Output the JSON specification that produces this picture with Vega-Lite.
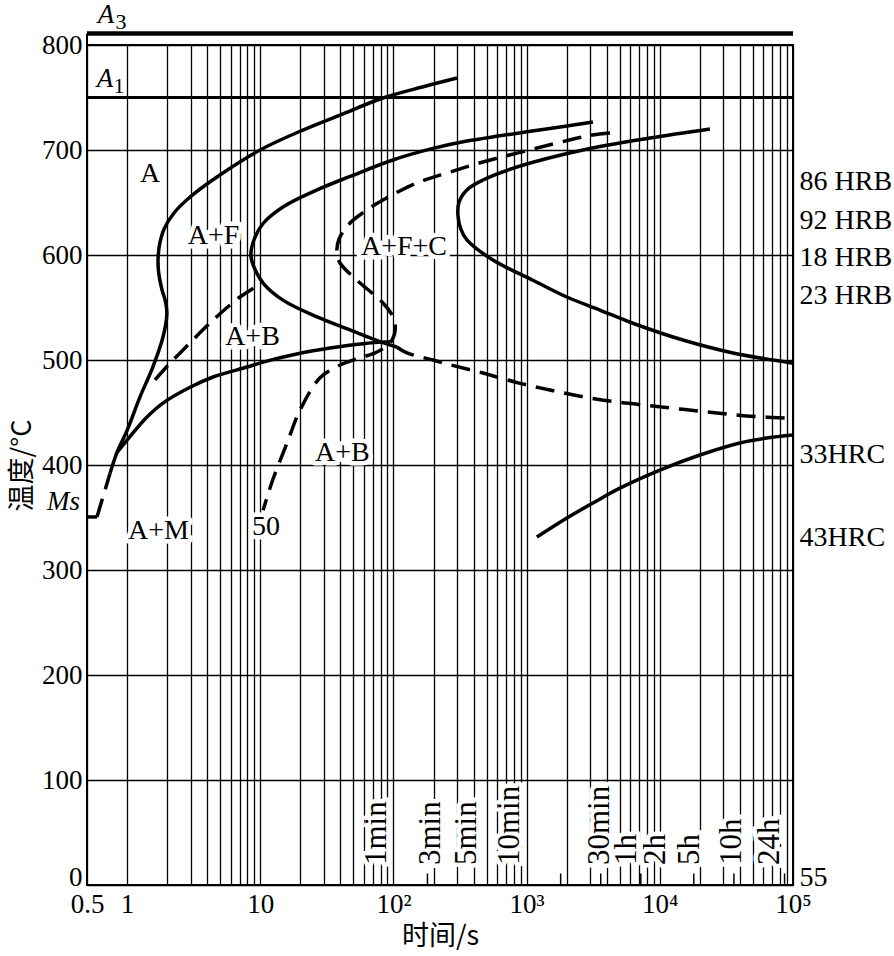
{
  "$schema": "https://vega.github.io/schema/vega-lite/v6.json",
  "width": 706,
  "height": 840,
  "autosize": {"type": "none"},
  "padding": {"left": 87, "top": 45, "right": 101, "bottom": 71},
  "background": "white",
  "config": {
    "view": {"stroke": "black", "strokeWidth": 2},
    "font": "Liberation Serif, Times New Roman, serif",
    "axis": {
      "labelFont": "Liberation Serif, Times New Roman, serif",
      "labelFontSize": 27,
      "labelColor": "black",
      "titleColor": "black",
      "titleFont": "Noto Sans CJK SC",
      "titleFontSize": 27,
      "titleFontWeight": "normal",
      "domain": false,
      "ticks": false,
      "tickSize": 0,
      "gridColor": "black",
      "gridOpacity": 1,
      "gridWidth": 1.3
    }
  },
  "datasets": {
    "solid": [
      {"curve": "c0", "i": 1, "t": 0.5, "T": 350.5},
      {"curve": "c0", "i": 2, "t": 0.594, "T": 350.5},
      {"curve": "c1", "i": 1, "t": 0.744, "T": 392},
      {"curve": "c1", "i": 2, "t": 0.84, "T": 412},
      {"curve": "c1", "i": 3, "t": 1.0, "T": 433},
      {"curve": "c1", "i": 4, "t": 1.25, "T": 464.8},
      {"curve": "c1", "i": 5, "t": 1.56, "T": 493.3},
      {"curve": "c1", "i": 6, "t": 1.86, "T": 521.9},
      {"curve": "c1", "i": 7, "t": 1.99, "T": 544.8},
      {"curve": "c1", "i": 8, "t": 1.93, "T": 557},
      {"curve": "c1", "i": 9, "t": 1.83, "T": 566.7},
      {"curve": "c1", "i": 10, "t": 1.72, "T": 585},
      {"curve": "c1", "i": 11, "t": 1.71, "T": 598},
      {"curve": "c1", "i": 12, "t": 1.76, "T": 611},
      {"curve": "c1", "i": 13, "t": 1.9, "T": 625},
      {"curve": "c1", "i": 14, "t": 2.25, "T": 640},
      {"curve": "c1", "i": 15, "t": 2.97, "T": 655.2},
      {"curve": "c1", "i": 16, "t": 4.73, "T": 674.3},
      {"curve": "c1", "i": 17, "t": 9.96, "T": 700},
      {"curve": "c1", "i": 18, "t": 20.9, "T": 719},
      {"curve": "c1", "i": 19, "t": 39.7, "T": 733.3},
      {"curve": "c1", "i": 20, "t": 83.4, "T": 749.5},
      {"curve": "c1", "i": 21, "t": 170, "T": 760.5},
      {"curve": "c1", "i": 22, "t": 300, "T": 768.6},
      {"curve": "c2", "i": 1, "t": 3147, "T": 726.7},
      {"curve": "c2", "i": 2, "t": 1496, "T": 720.5},
      {"curve": "c2", "i": 3, "t": 631, "T": 713.5},
      {"curve": "c2", "i": 4, "t": 356, "T": 708.5},
      {"curve": "c2", "i": 5, "t": 198, "T": 701.5},
      {"curve": "c2", "i": 6, "t": 99, "T": 690.5},
      {"curve": "c2", "i": 7, "t": 47.2, "T": 674.8},
      {"curve": "c2", "i": 8, "t": 26.7, "T": 662},
      {"curve": "c2", "i": 9, "t": 14.8, "T": 645.7},
      {"curve": "c2", "i": 10, "t": 10.5, "T": 630},
      {"curve": "c2", "i": 11, "t": 9.0, "T": 615},
      {"curve": "c2", "i": 12, "t": 8.5, "T": 600},
      {"curve": "c2", "i": 13, "t": 9.0, "T": 588},
      {"curve": "c2", "i": 14, "t": 10.5, "T": 573.3},
      {"curve": "c2", "i": 15, "t": 14.8, "T": 557},
      {"curve": "c2", "i": 16, "t": 26.7, "T": 541},
      {"curve": "c2", "i": 17, "t": 47.2, "T": 528.6},
      {"curve": "c2", "i": 18, "t": 83.4, "T": 516.5},
      {"curve": "c2", "i": 19, "t": 106, "T": 512.4},
      {"curve": "c3", "i": 1, "t": 0.84, "T": 412},
      {"curve": "c3", "i": 2, "t": 1.0, "T": 423.8},
      {"curve": "c3", "i": 3, "t": 1.41, "T": 445.7},
      {"curve": "c3", "i": 4, "t": 1.86, "T": 459},
      {"curve": "c3", "i": 5, "t": 2.97, "T": 474},
      {"curve": "c3", "i": 6, "t": 4.42, "T": 483.8},
      {"curve": "c3", "i": 7, "t": 7.95, "T": 493.3},
      {"curve": "c3", "i": 8, "t": 10.5, "T": 498},
      {"curve": "c3", "i": 9, "t": 19.9, "T": 506.5},
      {"curve": "c3", "i": 10, "t": 33.4, "T": 511.4},
      {"curve": "c3", "i": 11, "t": 59.1, "T": 515.5},
      {"curve": "c3", "i": 12, "t": 94.2, "T": 517.5},
      {"curve": "c6", "i": 1, "t": 23770, "T": 720},
      {"curve": "c6", "i": 2, "t": 8433, "T": 711.4},
      {"curve": "c6", "i": 3, "t": 2648, "T": 700},
      {"curve": "c6", "i": 4, "t": 846, "T": 683.8},
      {"curve": "c6", "i": 5, "t": 470, "T": 671.4},
      {"curve": "c6", "i": 6, "t": 356, "T": 662},
      {"curve": "c6", "i": 7, "t": 310, "T": 650},
      {"curve": "c6", "i": 8, "t": 305, "T": 638},
      {"curve": "c6", "i": 9, "t": 320, "T": 625},
      {"curve": "c6", "i": 10, "t": 356, "T": 614.3},
      {"curve": "c6", "i": 11, "t": 558, "T": 595.2},
      {"curve": "c6", "i": 12, "t": 1114, "T": 576},
      {"curve": "c6", "i": 13, "t": 2006, "T": 560},
      {"curve": "c6", "i": 14, "t": 3548, "T": 547.6},
      {"curve": "c6", "i": 15, "t": 6281, "T": 535},
      {"curve": "c6", "i": 16, "t": 14920, "T": 519},
      {"curve": "c6", "i": 17, "t": 35400, "T": 506.7},
      {"curve": "c6", "i": 18, "t": 100000, "T": 497},
      {"curve": "c7", "i": 1, "t": 1194, "T": 331.4},
      {"curve": "c7", "i": 2, "t": 2006, "T": 349.5},
      {"curve": "c7", "i": 3, "t": 3147, "T": 363.8},
      {"curve": "c7", "i": 4, "t": 5012, "T": 378},
      {"curve": "c7", "i": 5, "t": 10020, "T": 395.2},
      {"curve": "c7", "i": 6, "t": 20000, "T": 409.5},
      {"curve": "c7", "i": 7, "t": 39900, "T": 421},
      {"curve": "c7", "i": 8, "t": 63680, "T": 425.7},
      {"curve": "c7", "i": 9, "t": 100000, "T": 428.6}
    ],
    "dashed": [
      {"curve": "d0", "i": 1, "t": 0.594, "T": 350.5},
      {"curve": "d0", "i": 2, "t": 0.744, "T": 392},
      {"curve": "d2", "i": 1, "t": 106, "T": 512.4},
      {"curve": "d2", "i": 2, "t": 125, "T": 507},
      {"curve": "d2", "i": 3, "t": 198, "T": 500},
      {"curve": "d2", "i": 4, "t": 266, "T": 495.5},
      {"curve": "d2", "i": 5, "t": 470, "T": 487.6},
      {"curve": "d2", "i": 6, "t": 846, "T": 478.5},
      {"curve": "d2", "i": 7, "t": 1496, "T": 471.4},
      {"curve": "d2", "i": 8, "t": 2648, "T": 465},
      {"curve": "d2", "i": 9, "t": 4762, "T": 460},
      {"curve": "d2", "i": 10, "t": 8433, "T": 456.5},
      {"curve": "d2", "i": 11, "t": 14920, "T": 453},
      {"curve": "d2", "i": 12, "t": 26850, "T": 449.5},
      {"curve": "d2", "i": 13, "t": 47450, "T": 446.5},
      {"curve": "d2", "i": 14, "t": 94800, "T": 444.5},
      {"curve": "d4", "i": 1, "t": 1.62, "T": 481},
      {"curve": "d4", "i": 2, "t": 2.1, "T": 497},
      {"curve": "d4", "i": 3, "t": 2.5, "T": 506.7},
      {"curve": "d4", "i": 4, "t": 4.42, "T": 538},
      {"curve": "d4", "i": 5, "t": 7.05, "T": 560},
      {"curve": "d4", "i": 6, "t": 10.3, "T": 573.3},
      {"curve": "d5", "i": 1, "t": 4221, "T": 716.2},
      {"curve": "d5", "i": 2, "t": 2986, "T": 713.8},
      {"curve": "d5", "i": 3, "t": 1496, "T": 705},
      {"curve": "d5", "i": 4, "t": 846, "T": 697},
      {"curve": "d5", "i": 5, "t": 470, "T": 688.6},
      {"curve": "d5", "i": 6, "t": 266, "T": 679},
      {"curve": "d5", "i": 7, "t": 150, "T": 668.6},
      {"curve": "d5", "i": 8, "t": 83.4, "T": 652.4},
      {"curve": "d5", "i": 9, "t": 63.3, "T": 642.9},
      {"curve": "d5", "i": 10, "t": 47.2, "T": 630.5},
      {"curve": "d5", "i": 11, "t": 39, "T": 615},
      {"curve": "d5", "i": 12, "t": 37.6, "T": 602},
      {"curve": "d5", "i": 13, "t": 39.7, "T": 592.4},
      {"curve": "d5", "i": 14, "t": 53.2, "T": 576},
      {"curve": "d5", "i": 15, "t": 83.4, "T": 554.3},
      {"curve": "d5", "i": 16, "t": 99.1, "T": 541},
      {"curve": "d5", "i": 17, "t": 103, "T": 528.6},
      {"curve": "d5", "i": 18, "t": 94.2, "T": 516.2},
      {"curve": "d5", "i": 19, "t": 75.2, "T": 507.6},
      {"curve": "d5", "i": 20, "t": 56.1, "T": 502},
      {"curve": "d5", "i": 21, "t": 39.7, "T": 495.2},
      {"curve": "d5", "i": 22, "t": 28.1, "T": 483},
      {"curve": "d5", "i": 23, "t": 19.9, "T": 452.4},
      {"curve": "d5", "i": 24, "t": 15.9, "T": 421},
      {"curve": "d5", "i": 25, "t": 12.4, "T": 385.7},
      {"curve": "d5", "i": 26, "t": 10.5, "T": 357}
    ],
    "critA3": [{"name": "A3", "t": 0.5, "t2": 100000, "T": 811}],
    "critA1": [{"name": "A1", "t": 0.5, "t2": 100000, "T": 750}],
    "frameExt": [{"t": 0.5, "T": 800, "T2": 811}],
    "timeTicks": [
      {"t": 180, "T": 0, "T2": 11},
      {"t": 1800, "T": 0, "T2": 11},
      {"t": 3600, "T": 0, "T2": 11},
      {"t": 7200, "T": 0, "T2": 11},
      {"t": 18000, "T": 0, "T2": 11},
      {"t": 36000, "T": 0, "T2": 11},
      {"t": 86400, "T": 0, "T2": 11}
    ],
    "regions": [
      {"t": 1.486, "T": 677, "label": "A"},
      {"t": 4.455, "T": 618, "label": "A+F"},
      {"t": 120, "T": 607.6, "label": "A+F+C"},
      {"t": 8.74, "T": 521.9, "label": "A+B"},
      {"t": 41.4, "T": 411.9, "label": "A+B"},
      {"t": 1.72, "T": 337, "label": "A+M"},
      {"t": 11.04, "T": 340.5, "label": "50"}
    ],
    "hardness": [
      {"t": 112000, "T": 669.5, "label": "86 HRB"},
      {"t": 112000, "T": 632, "label": "92 HRB"},
      {"t": 112000, "T": 597, "label": "18 HRB"},
      {"t": 112000, "T": 561, "label": "23 HRB"},
      {"t": 112000, "T": 409.5, "label": "33HRC"},
      {"t": 112000, "T": 330.5, "label": "43HRC"},
      {"t": 112000, "T": 6.7, "label": "55"}
    ],
    "timeLabels": [
      {"t": 75, "T": 19, "label": "1min"},
      {"t": 191, "T": 19, "label": "3min"},
      {"t": 356, "T": 19, "label": "5min"},
      {"t": 749, "T": 19, "label": "10min"},
      {"t": 3551, "T": 19, "label": "30min"},
      {"t": 5662, "T": 19, "label": "1h"},
      {"t": 9343, "T": 19, "label": "2h"},
      {"t": 16830, "T": 19, "label": "5h"},
      {"t": 34800, "T": 19, "label": "10h"},
      {"t": 67100, "T": 19, "label": "24h"}
    ],
    "italicLabels": [
      {"t": 0.694, "T": 829, "label": "A"},
      {"t": 0.683, "T": 768, "label": "A"},
      {"t": 0.333, "T": 364.8, "label": "Ms"}
    ],
    "subscripts": [
      {"t": 0.9, "T": 821.5, "label": "3"},
      {"t": 0.869, "T": 761.4, "label": "1"}
    ]
  },
  "encoding": {
    "x": {
      "field": "t",
      "type": "quantitative",
      "scale": {"type": "log", "domain": [0.5, 100000], "nice": false},
      "axis": {
        "title": "时间/s",
        "titlePadding": 6,
        "labelPadding": 6,
        "labelOverlap": false,
        "labelFlush": false,
        "values": [0.5, 1, 2, 3, 4, 5, 6, 7, 8, 9, 10, 20, 30, 40, 50, 60, 70, 80, 90, 100, 200, 300, 400, 500, 600, 700, 800, 900, 1000, 2000, 3000, 4000, 5000, 6000, 7000, 8000, 9000, 10000, 20000, 30000, 40000, 50000, 60000, 70000, 80000, 90000, 100000],
        "labelExpr": "datum.value == 0.5 ? '0.5' : datum.value == 1 ? '1' : datum.value == 10 ? '10' : datum.value == 100 ? '10²' : datum.value == 1000 ? '10³' : datum.value == 10000 ? '10⁴' : datum.value == 100000 ? '10⁵' : ''"
      }
    },
    "y": {
      "field": "T",
      "type": "quantitative",
      "scale": {"domain": [0, 800], "nice": false, "zero": false},
      "axis": {
        "title": "温度/°C",
        "titlePadding": 5,
        "labelPadding": 5,
        "values": [0, 100, 200, 300, 400, 500, 600, 700, 800],
        "labelBaseline": {"condition": {"test": "datum.value == 0", "value": "alphabetic"}, "value": "middle"}
      }
    }
  },
  "layer": [
    {
      "data": {"name": "critA3"},
      "mark": {"type": "rule", "stroke": "black", "strokeWidth": 4.5},
      "encoding": {"x2": {"field": "t2"}}
    },
    {
      "data": {"name": "critA1"},
      "mark": {"type": "rule", "stroke": "black", "strokeWidth": 3},
      "encoding": {"x2": {"field": "t2"}}
    },
    {
      "data": {"name": "frameExt"},
      "mark": {"type": "rule", "stroke": "black", "strokeWidth": 2},
      "encoding": {"y2": {"field": "T2"}}
    },
    {
      "data": {"name": "timeTicks"},
      "mark": {"type": "rule", "stroke": "black", "strokeWidth": 1.5},
      "encoding": {"y2": {"field": "T2"}}
    },
    {
      "data": {"name": "solid"},
      "mark": {"type": "line", "interpolate": "catmull-rom", "stroke": "black", "strokeWidth": 3.5},
      "encoding": {"detail": {"field": "curve"}, "order": {"field": "i", "type": "quantitative"}}
    },
    {
      "data": {"name": "dashed"},
      "mark": {"type": "line", "interpolate": "catmull-rom", "stroke": "black", "strokeWidth": 3.5, "strokeDash": [19, 10]},
      "encoding": {"detail": {"field": "curve"}, "order": {"field": "i", "type": "quantitative"}}
    },
    {
      "data": {"name": "regions"},
      "mark": {"type": "text", "font": "Liberation Serif, Times New Roman, serif", "fontSize": 28, "fill": "white", "stroke": "white", "strokeWidth": 9, "strokeJoin": "round", "align": "center", "baseline": "middle"},
      "encoding": {"text": {"field": "label"}}
    },
    {
      "data": {"name": "regions"},
      "mark": {"type": "text", "font": "Liberation Serif, Times New Roman, serif", "fontSize": 28, "fill": "black", "align": "center", "baseline": "middle"},
      "encoding": {"text": {"field": "label"}}
    },
    {
      "data": {"name": "timeLabels"},
      "mark": {"type": "text", "font": "Liberation Serif, Times New Roman, serif", "fontSize": 31, "angle": 270, "fill": "white", "stroke": "white", "strokeWidth": 9, "strokeJoin": "round", "align": "left", "baseline": "middle"},
      "encoding": {"text": {"field": "label"}}
    },
    {
      "data": {"name": "timeLabels"},
      "mark": {"type": "text", "font": "Liberation Serif, Times New Roman, serif", "fontSize": 31, "angle": 270, "fill": "black", "align": "left", "baseline": "middle"},
      "encoding": {"text": {"field": "label"}}
    },
    {
      "data": {"name": "hardness"},
      "mark": {"type": "text", "font": "Liberation Serif, Times New Roman, serif", "fontSize": 28, "fill": "black", "align": "left", "baseline": "middle"},
      "encoding": {"text": {"field": "label"}}
    },
    {
      "data": {"name": "italicLabels"},
      "mark": {"type": "text", "font": "Liberation Serif, Times New Roman, serif", "fontSize": 27, "fontStyle": "italic", "fill": "black", "align": "center", "baseline": "middle"},
      "encoding": {"text": {"field": "label"}}
    },
    {
      "data": {"name": "subscripts"},
      "mark": {"type": "text", "font": "Liberation Serif, Times New Roman, serif", "fontSize": 22, "fill": "black", "align": "center", "baseline": "middle"},
      "encoding": {"text": {"field": "label"}}
    }
  ]
}
